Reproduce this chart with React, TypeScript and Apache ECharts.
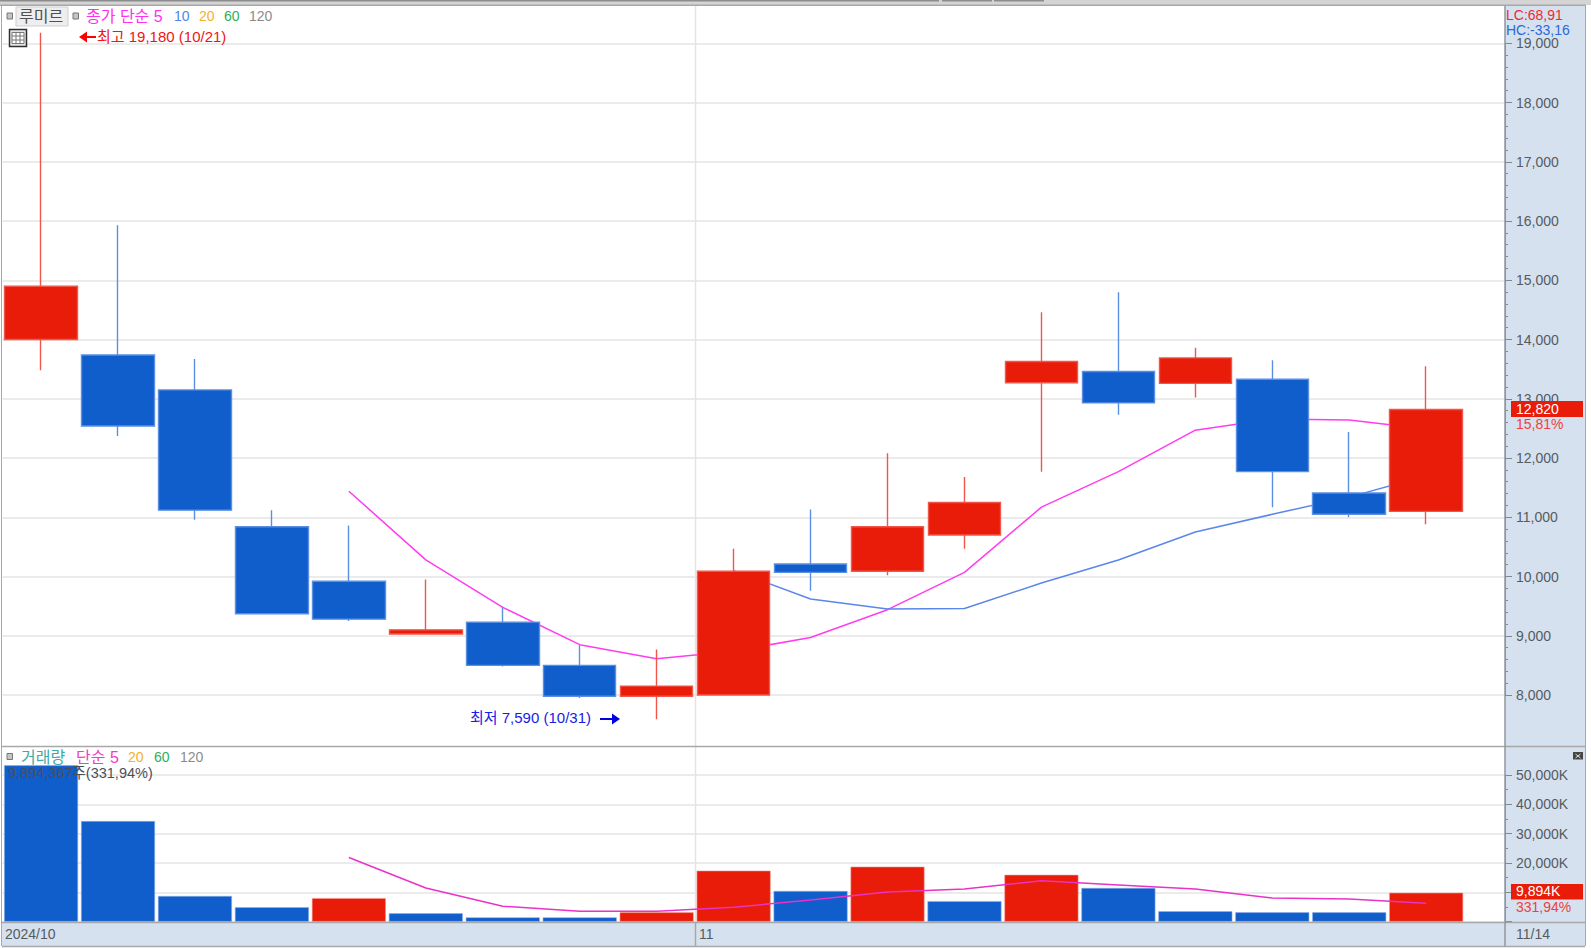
import React, { useEffect, useRef } from "react";
import * as echarts from "echarts";

const dates = ["10/21","10/22","10/23","10/24","10/25","10/28","10/29","10/30","10/31","11/01","11/04","11/05","11/06","11/07","11/08","11/11","11/12","11/13","11/14"];
const opens = [14000,13740,13150,10840,9920,9030,9230,8500,7980,8000,10210,10090,10700,13270,13460,13260,13330,11410,11100];
const closes = [14900,12540,11120,9370,9280,9100,8500,7980,8150,10090,10070,10840,11250,13630,12930,13690,11770,11050,12820];
const lows = [13480,12370,10960,9370,9250,9030,8480,7950,7590,7990,9760,10020,10470,11770,12730,13020,11170,11000,10880];
const highs = [19180,15930,13670,11120,10860,9950,9490,8840,8770,10470,11130,12080,11680,14460,14800,13860,13650,12440,13550];
const ma5 = [null,null,null,null,11440,10280,9480,8850,8610,8740,8970,9440,10070,11170,11770,12470,12660,12640,12490];
const ma10 = [null,null,null,null,null,null,null,null,null,10100,9620,9450,9460,9890,10280,10750,11050,11340,11700];
const volumes = [53300,34300,8750,4950,8050,2870,1490,1490,3200,17400,10470,18770,7020,16000,11500,3560,3210,3210,9894];
const volumeUp = [0,0,0,0,1,0,0,0,1,1,0,1,0,1,0,0,0,0,1];
const volMa5 = [null,null,null,null,21880,11510,5290,3560,3560,4940,7360,10130,11160,13930,12550,11160,8050,7710,6330];
const priceTicks = { min: 8000, max: 19000, interval: 1000 };
const volumeTicks = { min: 0, max: 50000, interval: 10000 };
const monthLabels = ["2024/10", "11"];
const monthPositions = [0.03, 9.05];

const RED = "#e81c08";
const BLUE = "#105dcc";
const RED_EDGE = "#f0564a";
const BLUE_EDGE = "#5a8fe2";
const PANEL = "#d6e1ef";
const FRAME = "#a8a8a8";
const GRIDLINE = "#e4e4e4";
const AXIS_TEXT = "#555b60";
const FONT = '"Liberation Sans","Noto Sans CJK KR",sans-serif';

const L = 2.6, SLOT = 76.95, AXIS_X = 1505;
const NARROW_W = SLOT * 19, WIDE_W = AXIS_X - L;
const MAIN_TOP = 43.3, MAIN_H = 651.7;
const VOL_TOP = 775, VOL_H = 146.7;
const W = 1591, H = 948;

const txt = (text: string, x: number, y: number, fill: string, size = 14, extra: any = {}) => ({
  type: "text", x, y, z: 60,
  style: { text, fill, font: `${size}px ${FONT}`, textVerticalAlign: "middle", verticalAlign: "middle", ...extra },
});
const box = (x: number, y: number, w: number, h: number, fill: string, z = -10, extra: any = {}) => ({
  type: "rect", z, shape: { x, y, width: w, height: h }, style: { fill, ...extra }, silent: true,
});
const seg = (x1: number, y1: number, x2: number, y2: number, stroke: string, z = -5, lineWidth = 1) => ({
  type: "line", z, shape: { x1, y1, x2, y2 }, style: { stroke, lineWidth }, silent: true,
});

function makeOption() {
  const isMonthLabel = (v: number) => monthLabels[monthPositions.indexOf(v)] ?? "";
  const emptyX = { axisLine: { show: false }, axisTick: { show: false }, axisLabel: { show: false }, splitLine: { show: false } };
  const rightAxis = (grid: number, t: any, minor: number, fmt: (v: number) => string) => ({
    type: "value", gridIndex: grid, position: "right", min: t.min, max: t.max, interval: t.interval,
    axisLine: { show: true, onZero: false, lineStyle: { color: "#8f979e", width: 1 } },
    axisTick: { show: true, length: 7, lineStyle: { color: "#808890" } },
    minorTick: { show: true, splitNumber: minor, length: 3, lineStyle: { color: "#808890" } },
    axisLabel: { margin: 11, color: AXIS_TEXT, fontFamily: FONT, fontSize: 14, padding: [0, 0, 4, 0], formatter: fmt },
    splitLine: { show: true, lineStyle: { color: GRIDLINE, width: 1.5 } },
  });
  const hiddenY = (grid: number, t: any) => ({
    type: "value", gridIndex: grid, min: t.min, max: t.max, interval: t.interval, show: false, splitLine: { show: false },
  });
  const thousands = (v: number) => v.toLocaleString("en-US");

  const graphics = [
    box(0, 0, W, H, "#ffffff", -20),
    box(0, 0, W, 5, "#d4d4d4", -6),
    box(0, 0, 939, 1.5, "#8c8c8c", -5), box(942, 0, 50, 1.5, "#8c8c8c", -5), box(994, 0, 50, 1.5, "#8c8c8c", -5),
    box(0, 4.5, 1586, 1.5, FRAME, -5),
    box(AXIS_X, 6, 80, 940, PANEL, -9),
    box(2, 922, AXIS_X - 2, 24, PANEL, -9),
    seg(1.5, 5, 1.5, 946, FRAME),
    seg(1585.5, 5, 1585.5, 946, FRAME),
    seg(2, 746.5, 1585, 746.5, FRAME, 40, 1.5),
    seg(2, 922.5, 1585, 922.5, FRAME, 40, 1.5),
    seg(2, 946.5, 1585, 946.5, FRAME, 40, 1.5),
    seg(AXIS_X, 6, AXIS_X, 946, "#8f979e", 40, 1.5),
    seg(695.5, 6, 695.5, 946, GRIDLINE, -4, 1.5),
    seg(695.5, 922, 695.5, 946, FRAME, 41, 1.5),

    // price pane header
    box(7, 13, 5.5, 6, "#c4c4c4", 60, { stroke: "#777", lineWidth: 1 }),
    box(73, 13, 5.5, 6, "#c4c4c4", 60, { stroke: "#777", lineWidth: 1 }),
    box(16, 7, 52, 19, "#eeeeee", 60, { stroke: "#cfcfcf", lineWidth: 1 }),
    txt("루미르", 19, 16, "#505050", 16),
    txt("종가 단순 5", 86, 16, "#ff2ff0", 16),
    txt("10", 174, 16, "#4d86e8"),
    txt("20", 199, 16, "#f6b02c"),
    txt("60", 224, 16, "#2fae57"),
    txt("120", 249, 16, "#8b8b8b"),
    box(9.5, 29.5, 17, 17, "#e4e4e4", 60, { stroke: "#303030", lineWidth: 1.5 }),
    box(12, 32.5, 12, 11, "#ffffff", 60, { stroke: "#777", lineWidth: 1 }),
    seg(16, 33, 16, 43, "#777", 61), seg(20, 33, 20, 43, "#777", 61), seg(12, 36, 24, 36, "#777", 61), seg(12, 40, 24, 40, "#777", 61),
    { type: "polygon", z: 60, shape: { points: [[79, 37], [87, 31.5], [87, 42.5]] }, style: { fill: "#ff0000" } },
    seg(86, 37, 96, 37, "#ff0000", 60, 2),
    txt("최고 19,180 (10/21)", 97, 36, "#f01414", 15),
    txt("최저 7,590 (10/31)", 470, 717, "#1a1ae6", 15),
    seg(600, 719, 614, 719, "#0000e0", 60, 2),
    { type: "polygon", z: 60, shape: { points: [[620, 719], [612, 713.5], [612, 724.5]] }, style: { fill: "#0000e0" } },

    // right side readouts
    txt("LC:68,91", 1506, 15, "#f02a2a"),
    txt("HC:-33,16", 1506, 30, "#2a6ad8"),
    box(1511, 401, 72, 16, RED, 60),
    txt("12,820", 1516, 408.5, "#ffffff"),
    txt("15,81%", 1516, 424, "#ee4040"),
    box(1511, 884, 72, 15.5, RED, 60),
    txt("9,894K", 1516, 891, "#ffffff"),
    txt("331,94%", 1516, 906.5, "#ee4040"),
    txt("11/14", 1516, 933.5, AXIS_TEXT),
    box(1573, 752, 10, 7.5, "#444444", 60),
    seg(1575.5, 754, 1580.5, 758, "#dddddd", 61), seg(1580.5, 754, 1575.5, 758, "#dddddd", 61),

    // volume pane header
    box(7, 753.5, 5.5, 6, "#c4c4c4", 60, { stroke: "#777", lineWidth: 1 }),
    txt("거래량", 21, 757, "#3fa9a9", 16),
    txt("단순 5", 76, 757, "#f03cc8", 16),
    txt("20", 128, 757, "#f6b02c"),
    txt("60", 154, 757, "#2fae57"),
    txt("120", 180, 757, "#8b8b8b"),
    txt("9,894,367주(331,94%)", 8, 773, "#4a4f55", 14.5),
  ];

  return {
    animation: false,
    backgroundColor: "#ffffff",
    graphic: { elements: graphics },
    grid: [
      { left: L, top: MAIN_TOP, width: WIDE_W, height: MAIN_H },
      { left: L, top: MAIN_TOP, width: NARROW_W, height: MAIN_H },
      { left: L, top: VOL_TOP, width: WIDE_W, height: VOL_H },
      { left: L, top: VOL_TOP, width: NARROW_W, height: VOL_H },
    ],
    xAxis: [
      { type: "value", gridIndex: 0, min: 0, max: WIDE_W / SLOT, ...emptyX },
      { type: "category", gridIndex: 1, data: dates, ...emptyX },
      {
        type: "value", gridIndex: 2, min: 0, max: WIDE_W / SLOT,
        axisLine: { show: false }, axisTick: { show: false }, splitLine: { show: false },
        axisLabel: {
          show: true, customValues: monthPositions, formatter: isMonthLabel, align: "left", margin: 5,
          color: AXIS_TEXT, fontFamily: FONT, fontSize: 14,
        },
      },
      { type: "category", gridIndex: 3, data: dates, ...emptyX },
    ],
    yAxis: [
      rightAxis(0, priceTicks, 5, thousands),
      hiddenY(1, priceTicks),
      rightAxis(2, volumeTicks, 2, (v: number) => (v === 0 ? "" : thousands(v) + "K")),
      hiddenY(3, volumeTicks),
    ],
    series: [
      { name: "단순 5", type: "line", xAxisIndex: 1, yAxisIndex: 1, data: ma5, z: 1, symbol: "none", clip: false,
        lineStyle: { color: "#ff3cf0", width: 1.5 } },
      { name: "단순 10", type: "line", xAxisIndex: 1, yAxisIndex: 1, data: ma10, z: 1, symbol: "none", clip: false,
        lineStyle: { color: "#5a86ec", width: 1.5 } },
      {
        name: "종가", type: "candlestick", xAxisIndex: 1, yAxisIndex: 1, z: 3, barWidth: 73, clip: false,
        data: dates.map((_, i) => [opens[i], closes[i], lows[i], highs[i]]),
        itemStyle: { color: RED, color0: BLUE, borderColor: RED_EDGE, borderColor0: BLUE_EDGE, borderWidth: 1.4 },
      },
      {
        name: "거래량", type: "bar", xAxisIndex: 3, yAxisIndex: 3, z: 2, barWidth: 74, clip: false,
        data: volumes.map((v, i) => ({
          value: v,
          itemStyle: { color: volumeUp[i] ? RED : BLUE, borderColor: volumeUp[i] ? "#f4a096" : "#8fb0e8", borderWidth: 0.6 },
        })),
      },
      { name: "거래량 단순 5", type: "line", xAxisIndex: 3, yAxisIndex: 3, data: volMa5, z: 4, symbol: "none", clip: false,
        lineStyle: { color: "#e832c8", width: 1.5 } },
    ],
  };
}

export default function App() {
  const ref = useRef<HTMLDivElement>(null);
  useEffect(() => {
    document.body.style.margin = "0";
    const chart = echarts.init(ref.current!, undefined, { renderer: "svg" });
    chart.setOption(makeOption() as any);
    return () => chart.dispose();
  }, []);
  return <div ref={ref} style={{ position: "absolute", left: 0, top: 0, width: W, height: H }} />;
}
